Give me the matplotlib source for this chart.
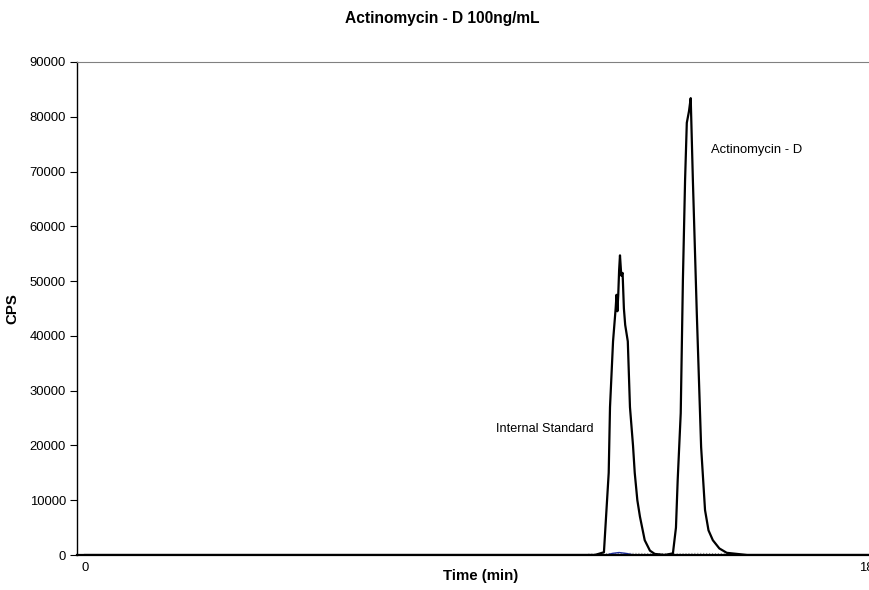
import numpy as np
import matplotlib.pyplot as plt

plt.rcParams['font.family'] = ['Liberation Sans', 'DejaVu Sans']

# chromatogram traces (time in min, counts per second)
is_time = [0.0, 11.75, 11.96, 12.07, 12.10, 12.17, 12.23, 12.25, 12.27, 12.29,
           12.31, 12.33, 12.36, 12.39, 12.42, 12.45, 12.51, 12.56, 12.63,
           12.67, 12.73, 12.79, 12.90, 13.02, 13.13, 13.36]
is_cps = [0, 0, 500, 15000, 27000, 39000, 45000, 47500, 44500, 47500,
          52000, 54700, 51000, 51500, 45000, 42000, 39000, 27000, 20000,
          15000, 10000, 7000, 2700, 800, 200, 0]

act_time = [13.36, 13.55, 13.62, 13.66, 13.73, 13.78, 13.83, 13.87, 13.92,
            13.96, 14.01, 14.10, 14.20, 14.29, 14.37, 14.47, 14.62, 14.79,
            15.26, 18.1]
act_cps = [0, 300, 5000, 13700, 25900, 50200, 68400, 78900, 81000,
           83400, 68400, 44200, 19700, 8200, 4500, 2700, 1200, 400,
           0, 0]

blue_time = [0.0, 12.01, 12.16, 12.31, 12.46, 12.66, 18.1]
blue_cps = [0, 0, 300, 450, 300, 0, 0]

gray_time = [11.6, 12.1, 12.6, 13.1, 13.6, 14.1, 14.6, 15.1]
gray_cps = [150, 250, 300, 250, 200, 300, 250, 150]

y_ticks = [0, 10000, 20000, 30000, 40000, 50000, 60000, 70000, 80000, 90000]

px_per_min = (866 - 85) / 18

fig = plt.figure(figsize=(8.69, 5.90), dpi=100)
ax = fig.add_axes([77 / 869, 35 / 590, 1 - 77 / 869, 493 / 590])

ax.plot(gray_time, gray_cps, color='#999999', lw=0.8, ls=':')
ax.plot(blue_time, blue_cps, color='#1f2fa0', lw=1.0)
ax.plot(is_time, is_cps, color='black', lw=1.6)
ax.plot(act_time, act_cps, color='black', lw=1.6)

ax.set_xlim(-8 / px_per_min, 784 / px_per_min)
ax.set_ylim(0, 90000)
ax.set_yticks(y_ticks)
ax.set_yticklabels([str(v) for v in y_ticks], fontsize=9.4)
ax.set_xticks([0, 18])
ax.set_xticklabels(['0', '18'], fontsize=9.4)
ax.tick_params(axis='x', length=0, pad=5)
ax.tick_params(axis='y', length=5, width=0.8, direction='out', pad=3)

ax.spines['right'].set_visible(False)
ax.spines['top'].set_color('#808080')
ax.spines['top'].set_linewidth(0.8)
ax.spines['left'].set_linewidth(1.0)
ax.spines['bottom'].set_linewidth(1.6)

ax.set_xlabel('Time (min)', fontsize=10.8, fontweight='bold')
ax.xaxis.set_label_coords((481 - 77) / (869 - 77), -14 / 493)
ax.set_ylabel('CPS', fontsize=10.8, fontweight='bold', labelpad=7)
fig.text(442 / 869, 1 - 18 / 590, 'Actinomycin - D 100ng/mL', fontsize=11.2,
         fontweight='bold', ha='center', va='center')

ax.text(14.43, 74000, 'Actinomycin - D', fontsize=9.4, va='center')
ax.text(9.47, 23000, 'Internal Standard', fontsize=9.1, va='center')

fig.savefig('out.png', dpi=100)
